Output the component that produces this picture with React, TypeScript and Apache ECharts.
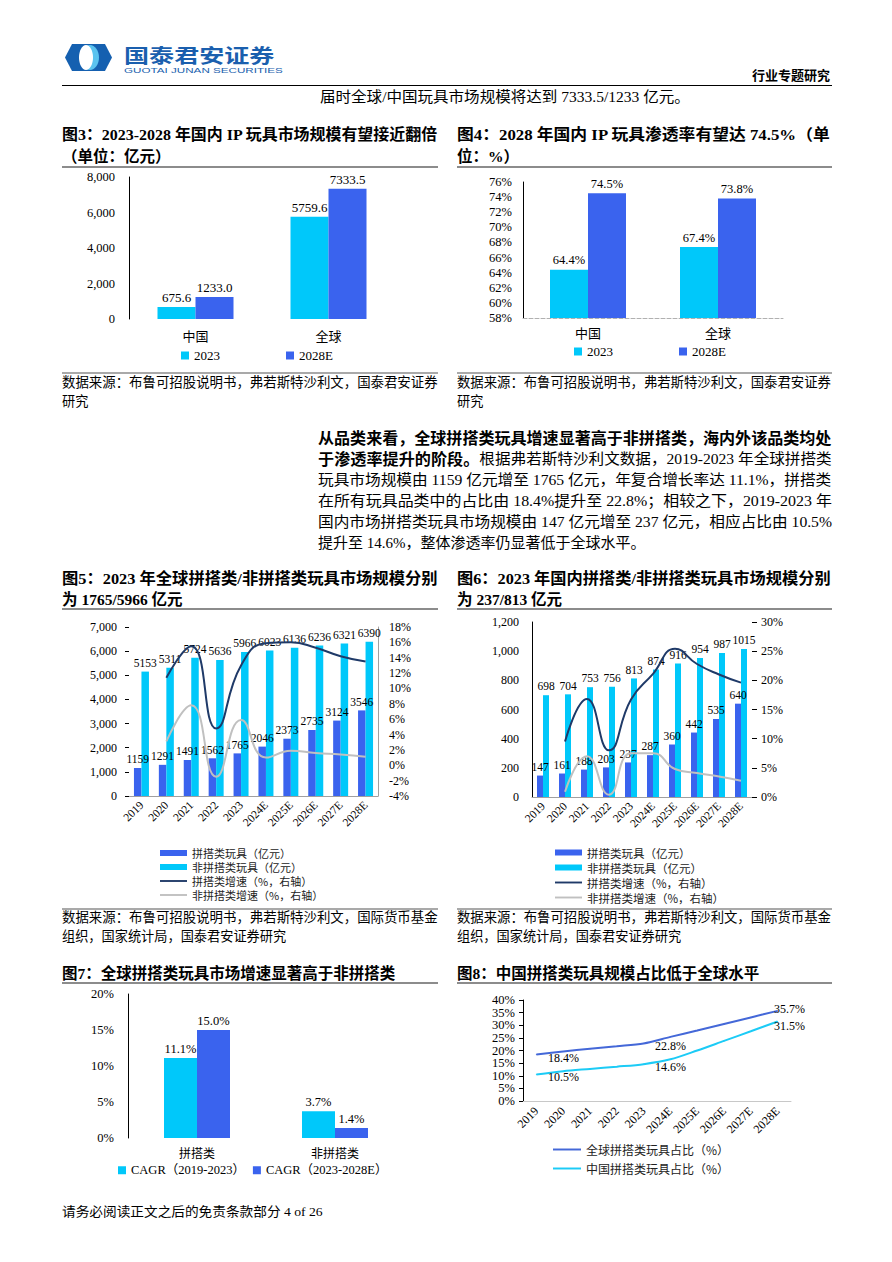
import React, { useEffect, useRef } from 'react';
import * as echarts from 'echarts';

// ---------- data ----------
const ipCategories = ['中国', '全球'];
const ipSize2023 = [675.6, 5759.6];
const ipSize2028 = [1233.0, 7333.5];
const ipRate2023 = [64.4, 67.4];
const ipRate2028 = [74.5, 73.8];

const years = ['2019', '2020', '2021', '2022', '2023', '2024E', '2025E', '2026E', '2027E', '2028E'];
const globalBuild = [1159, 1291, 1491, 1562, 1765, 2046, 2373, 2735, 3124, 3546];
const globalNonBuild = [5153, 5311, 5724, 5636, 5966, 6023, 6136, 6236, 6321, 6390];
const globalBuildGrowth = [null, 11.4, 15.5, 4.8, 13.0, 15.9, 16.0, 15.3, 14.2, 13.5];
const globalNonBuildGrowth = [null, 3.1, 7.8, -1.5, 5.9, 1.0, 1.9, 1.6, 1.4, 1.1];

const chinaBuild = [147, 161, 188, 203, 237, 287, 360, 442, 535, 640];
const chinaNonBuild = [698, 704, 753, 756, 813, 874, 916, 954, 987, 1015];
const chinaBuildGrowth = [null, 9.5, 16.8, 8.0, 16.7, 21.1, 25.4, 22.8, 21.0, 19.6];
const chinaNonBuildGrowth = [null, 0.9, 7.0, 0.4, 7.5, 7.5, 4.8, 4.1, 3.5, 2.8];

const cagrCategories = ['拼搭类', '非拼搭类'];
const cagr1923 = [11.1, 3.7];
const cagr2328 = [15.0, 1.4];

const globalShare = [18.4, 19.6, 20.7, 21.7, 22.8, 25.4, 27.9, 30.5, 33.1, 35.7];
const chinaShare = [10.5, 11.8, 12.7, 13.6, 14.6, 16.5, 20.0, 23.8, 27.6, 31.5];
const shareLabelIdx = [0, 4, 9];

const bodyLines = [
  '玩具市场规模由 1159 亿元增至 1765 亿元，年复合增长率达 11.1%，拼搭类',
  '在所有玩具品类中的占比由 18.4%提升至 22.8%；相较之下，2019-2023 年',
  '国内市场拼搭类玩具市场规模由 147 亿元增至 237 亿元，相应占比由 10.5%',
];

// ---------- styles ----------
const SERIF = "'Liberation Serif', 'Times New Roman', 'Noto Sans CJK SC', serif";
const CJK = "'Noto Sans CJK SC', 'Liberation Serif', sans-serif";
const CYAN = '#00c8fa';
const BLUE = '#3a63ee';
const NAVY = '#1f3a68';
const GRAY = '#c0c0c0';
const LINE_ICON = 'path://M0,0H100V7H0Z';

let ctx2d: CanvasRenderingContext2D | null = null;
const measure = (text: string, size: number, family: string, bold: boolean) => {
  if (!ctx2d) ctx2d = document.createElement('canvas').getContext('2d');
  if (!ctx2d) return 1;
  ctx2d.font = `${bold ? 'bold' : 'normal'} ${size}px ${family}`;
  return ctx2d.measureText(text).width || 1;
};

const txt = (x: number, y: number, text: string, o: any = {}) => ({
  type: 'text',
  x,
  y,
  silent: true,
  style: {
    text,
    fill: o.color ?? '#000',
    fontSize: o.size ?? 14,
    fontFamily: o.family ?? SERIF,
    fontWeight: o.bold ? 'bold' : 'normal',
    align: o.align ?? 'left',
    verticalAlign: 'middle',
  },
});

// text stretched horizontally to fill a justified width
const fit = (x: number, y: number, text: string, o: any, width: number) => {
  const w = measure(text, o.size ?? 14, o.family ?? SERIF, !!o.bold);
  return { type: 'group', x, y, scaleX: width / w, children: [txt(0, 0, text, o)] };
};

const hline = (x1: number, x2: number, y: number, color: string, w: number) => ({
  type: 'line',
  silent: true,
  shape: { x1, y1: y, x2, y2: y },
  style: { stroke: color, lineWidth: w },
});

const thousands = (v: number) => v.toLocaleString('en-US');
const axisText = (size = 12, family = SERIF) => ({ color: '#000', fontSize: size, fontFamily: family });

export default function App() {
  const ref = useRef<HTMLDivElement>(null);

  useEffect(() => {
    if (!ref.current) return;
    const chart = echarts.init(ref.current, null, { renderer: 'svg' });

    const barLabel = (size: number, fmt?: any) => ({
      show: true,
      position: 'top',
      distance: 3,
      color: '#000',
      fontSize: size,
      fontFamily: SERIF,
      formatter: fmt,
    });

    const shareData = (arr: number[], endOffset: number) =>
      arr.map((v, i) =>
        shareLabelIdx.includes(i)
          ? {
              value: v,
              label: {
                show: true,
                position: 'right',
                distance: i === 9 ? -4 : 11,
                offset: [0, i === 9 ? endOffset : 3],
                color: '#000',
                fontSize: 12,
                fontFamily: SERIF,
                formatter: (p: any) => Number(p.value).toFixed(1) + '%',
              },
            }
          : v
      );

    const T = { size: 15.5, bold: true };
    const S = { size: 13.2, family: CJK };
    const B = { size: 15 };
    const l2b = '于渗透率提升的阶段。';
    const l2n = '根据弗若斯特沙利文数据，2019-2023 年全球拼搭类';
    const l2w = measure(l2b, 15.5, CJK, true) + measure(l2n, 15, SERIF, false);

    const graphic: any[] = [
      // logo
      {
        type: 'polygon',
        silent: true,
        shape: { points: [[65, 57.5], [72, 44], [105, 44], [112, 57.5], [105, 71], [72, 71]] },
        style: { fill: '#1560b0' },
      },
      { type: 'ellipse', silent: true, shape: { cx: 90, cy: 57.5, rx: 9, ry: 12.5 }, style: { fill: '#5bc3ef' } },
      { type: 'ellipse', silent: true, shape: { cx: 86, cy: 57.5, rx: 7, ry: 12.5 }, style: { fill: '#ffffff' } },
      {
        type: 'group',
        x: 124,
        y: 54,
        scaleX: 1.32,
        children: [txt(0, 0, '国泰君安证券', { size: 19, bold: true, family: CJK, color: '#1a5fae' })],
      },
      fit(124, 70.5, 'GUOTAI JUNAN SECURITIES', { size: 8, family: "'Liberation Sans', sans-serif", color: '#1a5fae' }, 159),
      txt(830, 74, '行业专题研究', { size: 13, bold: true, family: CJK, align: 'right' }),
      hline(62, 832, 85.5, '#000', 1),
      fit(320, 97, '届时全球/中国玩具市场规模将达到 7333.5/1233 亿元。', { size: 15 }, 370),

      // fig3 title
      fit(62, 135, '图3：2023-2028 年国内 IP 玩具市场规模有望接近翻倍', T, 376),
      txt(62, 156, '（单位：亿元）', T),
      hline(62, 438, 167, '#8c8c8c', 2),
      hline(62, 438, 373, '#8c8c8c', 1.5),
      fit(62, 382, '数据来源：布鲁可招股说明书，弗若斯特沙利文，国泰君安证券', S, 376),
      txt(62, 400, '研究', S),

      // fig4 title
      fit(457, 135, '图4：2028 年国内 IP 玩具渗透率有望达 74.5%（单', T, 374),
      txt(457, 156, '位：%）', T),
      hline(457, 832, 167, '#8c8c8c', 2),
      hline(457, 832, 373, '#8c8c8c', 1.5),
      fit(457, 382, '数据来源：布鲁可招股说明书，弗若斯特沙利文，国泰君安证券', S, 374),
      txt(457, 400, '研究', S),

      // body paragraph
      fit(318, 438, '从品类来看，全球拼搭类玩具增速显著高于非拼搭类，海内外该品类均处', { size: 15.5, bold: true, family: CJK }, 514),
      {
        type: 'group',
        x: 318,
        y: 459,
        scaleX: 514 / l2w,
        children: [
          {
            type: 'text',
            x: 0,
            y: 0,
            silent: true,
            style: {
              text: `{b|${l2b}}{n|${l2n}}`,
              verticalAlign: 'middle',
              rich: {
                b: { fontSize: 15.5, fontWeight: 'bold', fontFamily: CJK, fill: '#000' },
                n: { fontSize: 15, fontFamily: SERIF, fill: '#000' },
              },
            },
          },
        ],
      },
      fit(318, 480, bodyLines[0], B, 514),
      fit(318, 501, bodyLines[1], B, 514),
      fit(318, 522, bodyLines[2], B, 514),
      txt(318, 543, '提升至 14.6%，整体渗透率仍显著低于全球水平。', B),

      // fig5 title
      fit(62, 579, '图5：2023 年全球拼搭类/非拼搭类玩具市场规模分别', T, 376),
      txt(62, 599, '为 1765/5966 亿元', T),
      hline(62, 438, 609, '#8c8c8c', 2),
      hline(62, 438, 909, '#8c8c8c', 1.5),
      fit(62, 917, '数据来源：布鲁可招股说明书，弗若斯特沙利文，国际货币基金', S, 376),
      txt(62, 935, '组织，国家统计局，国泰君安证券研究', S),

      // fig6 title
      fit(457, 579, '图6：2023 年国内拼搭类/非拼搭类玩具市场规模分别', T, 374),
      txt(457, 599, '为 237/813 亿元', T),
      hline(457, 832, 609, '#8c8c8c', 2),
      hline(457, 832, 909, '#8c8c8c', 1.5),
      fit(457, 917, '数据来源：布鲁可招股说明书，弗若斯特沙利文，国际货币基金', S, 374),
      txt(457, 935, '组织，国家统计局，国泰君安证券研究', S),

      // fig7 / fig8 titles
      txt(62, 973, '图7：全球拼搭类玩具市场增速显著高于非拼搭类', T),
      hline(62, 438, 983, '#8c8c8c', 2),
      txt(457, 973, '图8：中国拼搭类玩具规模占比低于全球水平', T),
      hline(457, 832, 983, '#8c8c8c', 2),

      // footer
      fit(62, 1212, '请务必阅读正文之后的免责条款部分 4 of 26', { size: 13 }, 261),
    ];

    const legendBase = {
      selectedMode: false,
      padding: 0,
      textStyle: { color: '#000', fontFamily: SERIF, fontSize: 13 },
    };

    const comboLegend = [
      { name: '拼搭类玩具（亿元）', icon: 'rect' },
      { name: '非拼搭类玩具（亿元）', icon: 'rect' },
      { name: '拼搭类增速（%，右轴）', icon: LINE_ICON },
      { name: '非拼搭类增速（%，右轴）', icon: LINE_ICON },
    ];

    const option: any = {
      animation: false,
      backgroundColor: '#ffffff',
      graphic,
      grid: [
        { left: 129, top: 177, width: 266, height: 142 },
        { left: 523, top: 182, width: 260, height: 136 },
        { left: 129, top: 627, width: 249, height: 169 },
        { left: 532, top: 622, width: 220, height: 175 },
        { left: 128, top: 994, width: 276, height: 144 },
        { left: 523, top: 1000, width: 268, height: 101 },
      ],
      xAxis: [
        {
          type: 'category', gridIndex: 0, data: ipCategories,
          axisLine: { show: false }, axisTick: { show: false },
          axisLabel: { ...axisText(13, CJK), margin: 10 },
        },
        {
          type: 'category', gridIndex: 1, data: ipCategories,
          axisLine: { show: true, lineStyle: { color: '#b0b0b0', type: 'dashed' } }, axisTick: { show: false },
          axisLabel: { ...axisText(13, CJK), margin: 8 },
        },
        {
          type: 'category', gridIndex: 2, data: years,
          axisLine: { show: true, lineStyle: { color: '#a0a0a0' } }, axisTick: { show: false },
          axisLabel: { ...axisText(11.5), rotate: 45, interval: 0, margin: 7 },
        },
        {
          type: 'category', gridIndex: 3, data: years,
          axisLine: { show: true, lineStyle: { color: '#a0a0a0' } }, axisTick: { show: false },
          axisLabel: { ...axisText(11.5), rotate: 45, interval: 0, margin: 7 },
        },
        {
          type: 'category', gridIndex: 4, data: cagrCategories,
          axisLine: { show: false }, axisTick: { show: false },
          axisLabel: { ...axisText(12, CJK), margin: 8 },
        },
        {
          type: 'category', gridIndex: 5, data: years,
          axisLine: { show: true, lineStyle: { color: '#c8c8c8' } }, axisTick: { show: false },
          axisLabel: { ...axisText(12), rotate: 45, interval: 0, margin: 8 },
        },
      ],
      yAxis: [
        {
          type: 'value', gridIndex: 0, min: 0, max: 8000, interval: 2000,
          axisLine: { show: true, lineStyle: { color: '#000' } }, axisTick: { show: false }, splitLine: { show: false },
          axisLabel: { ...axisText(12.5), margin: 14, formatter: thousands },
        },
        {
          type: 'value', gridIndex: 1, min: 58, max: 76, interval: 2,
          axisLine: { show: true, lineStyle: { color: '#000' } }, axisTick: { show: false }, splitLine: { show: false },
          axisLabel: { ...axisText(12.5), margin: 11, formatter: '{value}%' },
        },
        {
          type: 'value', gridIndex: 2, min: 0, max: 7000, interval: 1000,
          axisLine: { show: false }, axisTick: { show: true, length: 4, lineStyle: { color: '#000' } }, splitLine: { show: false },
          axisLabel: { ...axisText(12), margin: 12, formatter: thousands },
        },
        {
          type: 'value', gridIndex: 2, position: 'right', min: -4, max: 18, interval: 2,
          axisLine: { show: true, lineStyle: { color: '#a0a0a0' } }, axisTick: { show: false }, splitLine: { show: false },
          axisLabel: { ...axisText(12), margin: 11, formatter: '{value}%' },
        },
        {
          type: 'value', gridIndex: 3, min: 0, max: 1200, interval: 200,
          axisLine: { show: true, lineStyle: { color: '#000' } }, axisTick: { show: false }, splitLine: { show: false },
          axisLabel: { ...axisText(12), margin: 13, formatter: thousands },
        },
        {
          type: 'value', gridIndex: 3, position: 'right', min: 0, max: 30, interval: 5,
          axisLine: { show: false }, axisTick: { show: true, length: 5, lineStyle: { color: '#000' } }, splitLine: { show: false },
          axisLabel: { ...axisText(12), margin: 9, formatter: '{value}%' },
        },
        {
          type: 'value', gridIndex: 4, min: 0, max: 20, interval: 5,
          axisLine: { show: true, lineStyle: { color: '#000' } }, axisTick: { show: false }, splitLine: { show: false },
          axisLabel: { ...axisText(12.5), margin: 14, formatter: '{value}%' },
        },
        {
          type: 'value', gridIndex: 5, min: 0, max: 40, interval: 5,
          axisLine: { show: true, lineStyle: { color: '#000' } }, axisTick: { show: true, length: 4, lineStyle: { color: '#000' } }, splitLine: { show: false },
          axisLabel: { ...axisText(12.5), margin: 8, formatter: '{value}%' },
        },
      ],
      legend: [
        { ...legendBase, left: 181, top: 349, icon: 'rect', itemWidth: 8, itemHeight: 8, itemGap: 66, data: ['2023', '2028E'] },
        { ...legendBase, left: 574, top: 345, icon: 'rect', itemWidth: 8, itemHeight: 8, itemGap: 66, data: ['2023', '2028E'] },
        {
          ...legendBase, left: 160, top: 847, orient: 'vertical', itemWidth: 27, itemHeight: 6, itemGap: 2,
          textStyle: { color: '#222', fontFamily: CJK, fontSize: 11, lineHeight: 12 },
          data: comboLegend,
        },
        {
          ...legendBase, left: 555, top: 846, orient: 'vertical', itemWidth: 27, itemHeight: 6, itemGap: 2,
          textStyle: { color: '#222', fontFamily: CJK, fontSize: 11.5, lineHeight: 13 },
          data: comboLegend,
        },
        {
          ...legendBase, left: 118, top: 1164, icon: 'rect', itemWidth: 8, itemHeight: 8, itemGap: 8,
          textStyle: { color: '#000', fontFamily: SERIF, fontSize: 12.5 },
          data: ['CAGR（2019-2023）', 'CAGR（2023-2028E）'],
        },
        {
          ...legendBase, left: 553, top: 1143, orient: 'vertical', itemWidth: 28, itemHeight: 8, itemGap: 6,
          textStyle: { color: '#222', fontFamily: CJK, fontSize: 12, lineHeight: 13 },
          data: [
            { name: '全球拼搭类玩具占比（%）', icon: LINE_ICON },
            { name: '中国拼搭类玩具占比（%）', icon: LINE_ICON },
          ],
        },
      ],
      series: [
        // fig3
        { type: 'bar', name: '2023', xAxisIndex: 0, yAxisIndex: 0, data: ipSize2023, barWidth: 38, barGap: '0%', itemStyle: { color: CYAN }, label: barLabel(13, (p: any) => Number(p.value).toFixed(1)) },
        { type: 'bar', name: '2028E', xAxisIndex: 0, yAxisIndex: 0, data: ipSize2028, barWidth: 38, barGap: '0%', itemStyle: { color: BLUE }, label: barLabel(13, (p: any) => Number(p.value).toFixed(1)) },
        // fig4
        { type: 'bar', name: '2023', xAxisIndex: 1, yAxisIndex: 1, data: ipRate2023, barWidth: 38, barGap: '0%', itemStyle: { color: CYAN }, label: barLabel(12.5, (p: any) => Number(p.value).toFixed(1) + '%') },
        { type: 'bar', name: '2028E', xAxisIndex: 1, yAxisIndex: 1, data: ipRate2028, barWidth: 38, barGap: '0%', itemStyle: { color: BLUE }, label: barLabel(12.5, (p: any) => Number(p.value).toFixed(1) + '%') },
        // fig5
        { type: 'bar', name: '拼搭类玩具（亿元）', xAxisIndex: 2, yAxisIndex: 2, data: globalBuild, barWidth: 7.5, barGap: '0%', itemStyle: { color: BLUE }, label: barLabel(11.5) },
        { type: 'bar', name: '非拼搭类玩具（亿元）', xAxisIndex: 2, yAxisIndex: 2, data: globalNonBuild, barWidth: 7.5, barGap: '0%', itemStyle: { color: CYAN }, label: barLabel(11.5) },
        { type: 'line', name: '拼搭类增速（%，右轴）', xAxisIndex: 2, yAxisIndex: 3, data: globalBuildGrowth, smooth: 0.5, symbol: 'none', lineStyle: { color: NAVY, width: 2 }, itemStyle: { color: NAVY }, z: 5 },
        { type: 'line', name: '非拼搭类增速（%，右轴）', xAxisIndex: 2, yAxisIndex: 3, data: globalNonBuildGrowth, smooth: 0.5, symbol: 'none', lineStyle: { color: GRAY, width: 2 }, itemStyle: { color: GRAY }, z: 5 },
        // fig6
        { type: 'bar', name: '拼搭类玩具（亿元）', xAxisIndex: 3, yAxisIndex: 4, data: chinaBuild, barWidth: 6, barGap: '0%', itemStyle: { color: BLUE }, label: barLabel(11.5) },
        { type: 'bar', name: '非拼搭类玩具（亿元）', xAxisIndex: 3, yAxisIndex: 4, data: chinaNonBuild, barWidth: 6, barGap: '0%', itemStyle: { color: CYAN }, label: barLabel(11.5) },
        { type: 'line', name: '拼搭类增速（%，右轴）', xAxisIndex: 3, yAxisIndex: 5, data: chinaBuildGrowth, smooth: 0.5, symbol: 'none', lineStyle: { color: NAVY, width: 2 }, itemStyle: { color: NAVY }, z: 5 },
        { type: 'line', name: '非拼搭类增速（%，右轴）', xAxisIndex: 3, yAxisIndex: 5, data: chinaNonBuildGrowth, smooth: 0.5, symbol: 'none', lineStyle: { color: GRAY, width: 2 }, itemStyle: { color: GRAY }, z: 5 },
        // fig7
        { type: 'bar', name: 'CAGR（2019-2023）', xAxisIndex: 4, yAxisIndex: 6, data: cagr1923, barWidth: 33, barGap: '0%', itemStyle: { color: CYAN }, label: barLabel(12.5, (p: any) => Number(p.value).toFixed(1) + '%') },
        { type: 'bar', name: 'CAGR（2023-2028E）', xAxisIndex: 4, yAxisIndex: 6, data: cagr2328, barWidth: 33, barGap: '0%', itemStyle: { color: BLUE }, label: barLabel(12.5, (p: any) => Number(p.value).toFixed(1) + '%') },
        // fig8
        { type: 'line', name: '全球拼搭类玩具占比（%）', xAxisIndex: 5, yAxisIndex: 7, data: shareData(globalShare, -2), smooth: 0.3, symbol: 'circle', symbolSize: 1, lineStyle: { color: '#4468d8', width: 2 }, itemStyle: { color: '#4468d8' } },
        { type: 'line', name: '中国拼搭类玩具占比（%）', xAxisIndex: 5, yAxisIndex: 7, data: shareData(chinaShare, 5), smooth: 0.3, symbol: 'circle', symbolSize: 1, lineStyle: { color: '#1ccbf6', width: 2 }, itemStyle: { color: '#1ccbf6' } },
      ],
    };

    chart.setOption(option);
    return () => chart.dispose();
  }, []);

  return (
    <div
      ref={ref}
      style={{ position: 'absolute', left: 0, top: 0, width: 892, height: 1262, background: '#fff' }}
    />
  );
}
